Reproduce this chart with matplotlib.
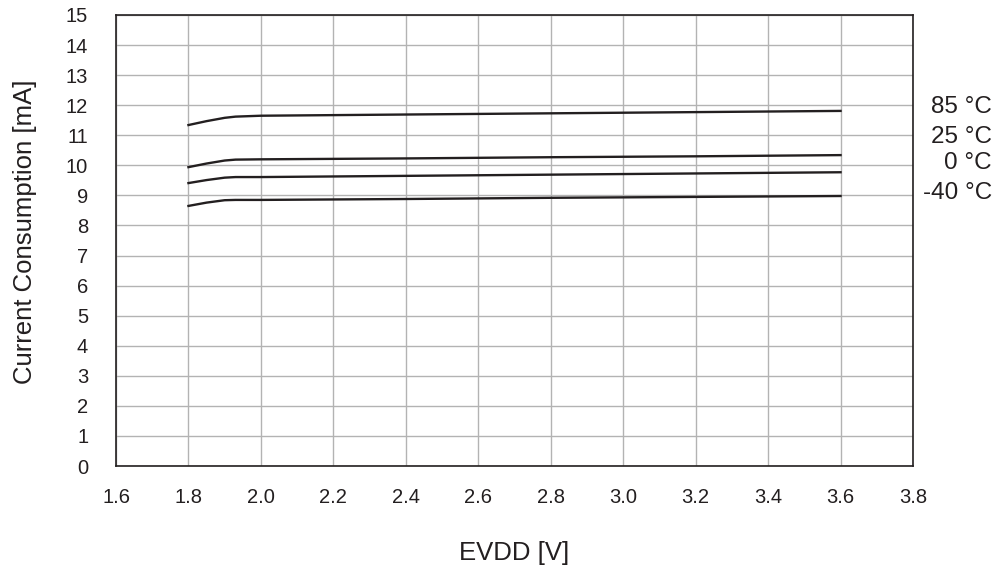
import matplotlib.pyplot as plt
import numpy as np

plt.rcParams['font.family'] = ['Liberation Sans', 'DejaVu Sans']
plt.rcParams['text.color'] = "#231f20"
plt.rcParams['xtick.color'] = "#231f20"
plt.rcParams['ytick.color'] = "#231f20"
plt.rcParams['axes.labelcolor'] = "#231f20"

evdd = [1.80, 1.85, 1.90, 1.93, 2.00, 2.40, 2.80, 3.20, 3.60]
i_85 = [11.34, 11.47, 11.58, 11.62, 11.65, 11.69, 11.73, 11.77, 11.81]
i_25 = [9.94, 10.06, 10.16, 10.19, 10.20, 10.23, 10.27, 10.30, 10.34]
i_0 = [9.41, 9.51, 9.59, 9.61, 9.61, 9.65, 9.69, 9.73, 9.77]
i_m40 = [8.65, 8.76, 8.84, 8.85, 8.85, 8.88, 8.92, 8.95, 8.98]
labels = ["85 °C", "25 °C", "0 °C", "-40 °C"]
label_y = [11.94, 10.94, 10.08, 9.08]

fig = plt.figure(figsize=(10.06, 5.70), dpi=100)
ax = fig.add_axes([116 / 1006, 1 - 466 / 570, (913 - 116) / 1006, (466 - 15) / 570])

for s in [i_85, i_25, i_0, i_m40]:
    ax.plot(evdd, s, color="#231f20", lw=1.7)

ax.set_xlim(1.6, 3.8)
ax.set_ylim(0, 15)
ax.set_xticks(np.arange(1.6, 3.81, 0.2))
ax.set_xticklabels(["%.1f" % v for v in np.arange(1.6, 3.81, 0.2)])
ax.set_yticks(range(0, 16))
ax.grid(True, color="#b3b3b3", lw=1)
ax.tick_params(length=0, labelsize=14.5)
ax.tick_params(axis="x", pad=16)
ax.tick_params(axis="y", pad=20)
for sp in ax.spines.values():
    sp.set_color("#231f20")
    sp.set_linewidth(1.2)

label_x = (992 - 116) / (913 - 116)
for lab, y in zip(labels, label_y):
    ax.text(label_x, y, lab, transform=ax.get_yaxis_transform(), fontsize=17.5,
            ha="right", va="center")

ax.set_xlabel("EVDD [V]", fontsize=18.5, labelpad=24)
ax.set_ylabel("Current Consumption [mA]", fontsize=18.5)
ax.yaxis.set_label_coords((37 - 116) / (913 - 116), (466 - 232) / 451)

fig.savefig("out.png", dpi=100)
